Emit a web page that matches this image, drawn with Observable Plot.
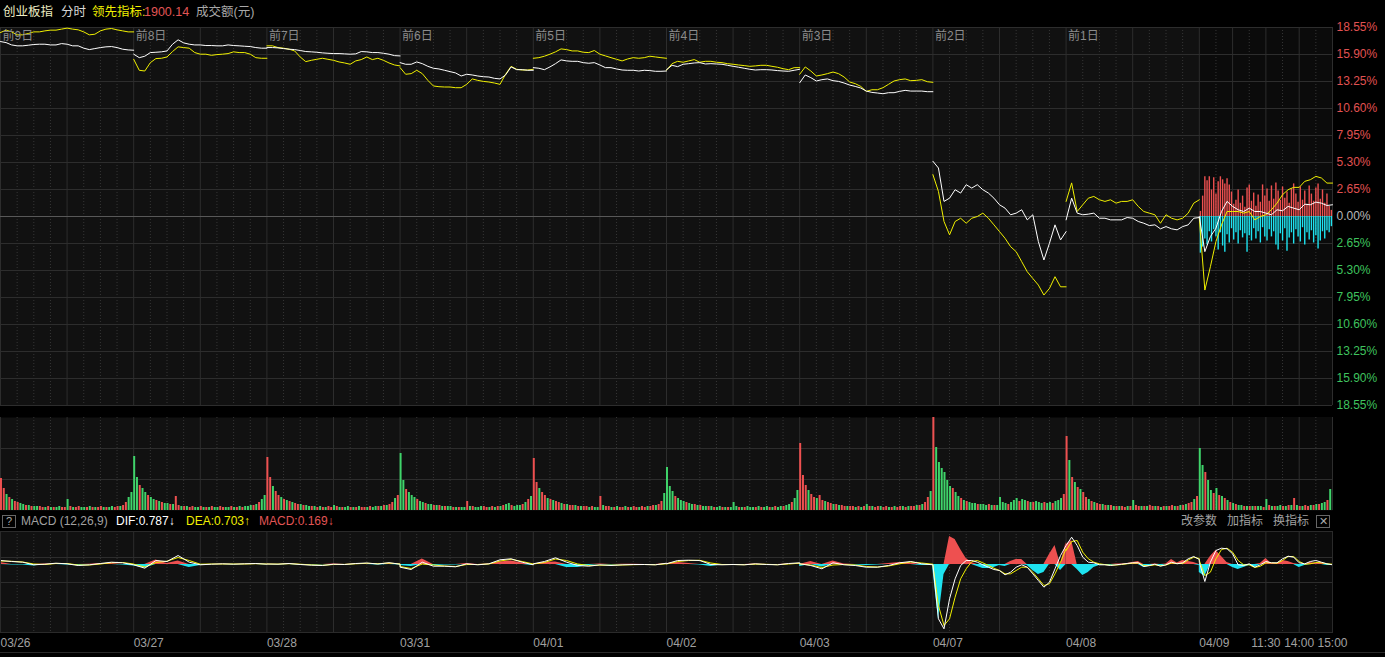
<!DOCTYPE html>
<html><head><meta charset="utf-8">
<script src="https://cdn.jsdelivr.net/npm/d3@7"></script>
<script src="https://cdn.jsdelivr.net/npm/@observablehq/plot@0.6"></script>
<style>
html,body{margin:0;padding:0;background:#000;overflow:hidden;}
#wrap{position:relative;width:1385px;height:657px;background:#000;font-family:"Liberation Sans","Noto Sans CJK SC",sans-serif;}
.layer{position:absolute;left:0;}
.t{position:absolute;font-size:12px;line-height:14px;white-space:nowrap;z-index:5;}
.box{position:absolute;border:1px solid #666;box-sizing:border-box;z-index:5;color:#aaa;font-size:11px;text-align:center;line-height:11px;}
</style></head><body><div id="wrap"></div>
<script>
// ---------- data ----------
const dayLabels = ["前9日","前8日","前7日","前6日","前5日","前4日","前3日","前2日","前1日",""];
const dateLabels = ["03/26","03/27","03/28","03/31","04/01","04/02","04/03","04/07","04/08","04/09"];
const sessionLabels = ["11:30","14:00","15:00"];
const sessionMinutes = [120,180,240];
const pctTicks = [18.55,15.90,13.25,10.60,7.95,5.30,2.65,0,-2.65,-5.30,-7.95,-10.60,-13.25,-15.90,-18.55];

// 创业板指 (white), % change, 10-minute samples
const indexPct = [
 [17.17,17.07,16.84,16.75,16.75,16.81,16.88,16.91,16.91,16.84,16.84,16.97,16.91,16.75,16.75,16.52,16.38,16.48,16.58,16.65,16.68,16.58,16.42,16.35,16.32],
 [15.93,15.59,15.73,16.09,16.12,16.16,16.25,16.91,17.34,17.04,16.91,16.84,16.84,16.78,16.78,16.75,16.75,16.84,16.78,16.75,16.71,16.68,16.58,16.52,16.52],
 [16.58,16.58,16.55,16.48,16.42,16.38,16.29,16.19,16.16,16.12,16.06,16.02,15.99,15.99,15.96,15.93,15.96,16.19,16.16,16.09,16.09,16.02,15.93,15.79,15.76],
 [15.10,14.94,14.94,15.17,15.00,14.74,14.55,14.48,14.35,14.22,14.09,13.79,13.96,13.89,13.79,13.72,13.69,13.56,13.50,13.89,14.68,14.41,14.41,14.35,14.35],
 [14.61,14.55,14.41,14.68,15.00,15.37,15.27,15.23,15.23,15.10,15.04,15.10,14.87,14.61,14.61,14.48,14.38,14.35,14.35,14.28,14.35,14.32,14.25,14.25,14.28],
 [14.41,14.84,14.71,14.94,15.00,15.07,15.10,14.97,15.00,14.97,14.94,14.84,14.74,14.65,14.55,14.45,14.38,14.41,14.41,14.38,14.32,14.28,14.25,14.35,14.45],
 [13.13,13.89,13.63,13.30,13.43,13.50,13.33,13.26,13.10,12.90,12.77,12.61,12.31,12.18,12.12,12.05,12.15,12.15,12.28,12.38,12.31,12.31,12.31,12.25,12.25],
 [5.42,4.76,1.48,1.80,2.63,2.30,3.12,2.79,3.12,2.63,2.30,1.80,1.15,0.82,0.17,0.33,0.66,-0.33,0.17,-2.46,-4.27,-2.63,-0.82,-2.30,-1.48],
 [-0.33,1.80,0.33,0.17,0.23,0.33,-0.17,-0.17,-0.33,-0.33,-0.33,-0.10,-0.17,-0.49,-0.66,-0.89,-0.82,-1.21,-0.99,-1.21,-1.31,-0.99,-0.82,-0.17,-0.10],
 [0,-3.45,-1.97,-1.15,0.49,1.48,0.99,0.66,0.49,0.82,0.49,0.49,0.33,0.17,0.66,0.56,0.99,0.82,0.66,1.21,1.15,1.41,1.31,1.08,1.15]
];
// 领先指标 (yellow), % change, 10-minute samples
const leadPct = [
 [18.06,18.29,18.12,17.83,17.83,17.96,18.12,18.12,18.22,18.29,18.29,18.39,18.49,18.39,18.32,18.12,17.83,17.89,18.22,18.39,18.45,18.32,18.22,18.12,18.12],
 [15.43,14.35,14.28,15.10,15.50,15.53,15.66,16.19,16.65,16.58,16.52,16.09,15.93,15.93,15.82,15.89,15.93,15.99,16.16,16.09,16.09,15.93,15.59,15.53,15.53],
 [16.75,16.75,16.58,16.52,16.42,16.25,15.66,15.20,15.33,15.43,15.53,15.43,15.33,15.17,15.07,14.94,15.27,15.40,15.66,15.40,15.53,15.33,15.07,14.87,14.78],
 [14.61,13.96,14.02,14.35,14.02,13.36,12.81,12.74,12.71,12.71,12.64,12.64,12.97,13.50,13.36,13.26,13.20,13.10,12.97,13.96,14.74,14.45,14.38,14.38,14.45],
 [15.53,15.59,15.73,15.93,16.16,16.45,16.38,16.25,16.25,16.12,16.09,16.29,15.93,15.76,15.59,15.43,15.27,15.46,15.59,15.53,15.59,15.73,15.66,15.59,15.53],
 [14.35,15.00,15.23,15.14,15.27,15.40,15.14,15.23,15.23,15.14,15.10,15.00,14.94,14.87,14.81,14.74,14.78,14.84,14.84,14.74,14.65,14.51,14.41,14.61,14.61],
 [13.96,14.68,14.28,13.79,13.89,14.02,14.18,14.02,13.69,13.20,13.04,12.77,12.28,12.44,12.44,12.64,12.97,13.30,13.43,13.50,13.33,13.36,13.43,13.23,13.17],
 [4.11,2.46,-0.49,-1.80,-0.49,-0.17,-0.66,-0.17,0,0.33,-0.17,-0.82,-1.48,-2.14,-2.96,-3.45,-4.43,-5.42,-6.08,-6.73,-7.71,-7.06,-5.91,-6.90,-6.90],
 [1.48,3.30,0.49,1.15,1.80,1.97,1.64,1.48,1.64,1.31,1.48,1.48,1.64,0.99,0.49,0.33,0.17,-0.66,0.17,-0.17,-0.33,-0.17,0.33,1.31,1.64],
 [-0.17,-7.22,-4.93,-2.46,-0.82,0.49,0.49,0.49,0.33,0.49,-0.33,0,0.17,0.66,1.31,2.14,2.63,2.86,2.86,3.45,3.61,3.94,3.78,3.28,3.28]
];
// today's up / down strength bars
const breadthUp = [0.5,2.0,3.9,3.5,3.9,2.6,3.8,2.2,3.4,3.9,3.6,3.2,3.7,3.1,2.4,1.2,1.6,2.6,1.3,2.0,0.9,2.8,3.1,1.5,2.3,1.0,2.1,1.4,3.1,2.0,2.7,1.5,3.0,1.7,3.3,2.5,1.6,2.9,1.8,2.4,1.3,2.7,3.2,2.2,1.4,2.9,1.6,2.5,1.2,3.0,2.2,1.5,2.8,3.2,1.7,2.6,1.3,2.2,1.0,0.6];
const breadthDown = [-3.6,-3.0,-2.2,-2.8,-1.5,-2.5,-1.3,-2.0,-3.3,-1.6,-2.9,-3.5,-1.8,-2.6,-1.2,-2.3,-1.6,-2.7,-1.4,-2.1,-1.7,-3.5,-1.9,-2.4,-1.2,-2.2,-1.5,-2.6,-1.1,-2.0,-2.4,-1.3,-2.0,-1.5,-2.8,-3.3,-1.7,-2.4,-1.2,-3.4,-2.1,-1.6,-2.7,-1.3,-2.0,-2.5,-1.1,-2.8,-1.6,-2.3,-1.4,-2.6,-1.9,-3.2,-2.4,-1.5,-2.2,-1.4,-1.6,-1.0];

// turnover (成交额), 5-minute bars, relative units
const volume = [
 [32,22,16,13,11,9,8,7,6,5,5,4,4,4,4,3,3,4,3,3,3,4,3,3,11,4,3,3,4,3,3,3,4,3,3,3,4,3,3,3,4,3,4,4,5,8,13,18],
 [54,33,25,22,18,15,13,11,10,9,8,7,7,6,6,14,5,4,4,4,3,4,3,3,4,3,3,3,4,3,3,4,3,3,3,4,3,3,4,3,4,4,5,5,6,8,11,15],
 [53,33,24,19,15,13,11,10,9,8,7,6,6,5,5,4,4,4,3,4,3,3,4,3,5,4,3,3,3,4,3,3,3,4,3,3,3,4,3,4,4,4,5,5,6,8,12,15],
 [57,30,21,18,15,13,11,9,8,7,6,6,5,5,5,4,4,4,4,3,3,3,3,3,9,4,4,3,3,4,4,3,3,4,3,4,4,5,6,7,5,4,5,5,6,8,11,14],
 [52,28,22,18,15,12,11,10,9,8,7,6,6,5,5,5,4,4,4,4,3,4,3,3,14,5,4,4,3,3,4,3,3,4,3,3,4,3,3,4,3,4,4,5,5,6,9,17],
 [43,24,19,14,12,10,9,8,7,6,6,5,5,4,4,4,4,3,3,4,3,3,3,3,8,4,3,3,3,4,3,3,3,4,3,3,4,3,3,4,3,4,4,5,6,8,12,20],
 [67,35,25,20,16,13,12,15,10,9,8,7,6,6,5,5,4,4,4,4,3,4,3,4,6,4,4,3,4,4,3,4,3,3,4,3,4,4,3,4,4,4,5,5,6,8,13,19],
 [93,63,48,42,38,30,24,22,18,14,12,10,9,8,7,7,6,6,6,5,6,5,5,5,13,8,7,6,8,10,12,9,11,10,9,8,8,9,8,7,8,7,8,7,9,10,12,16],
 [74,50,33,28,23,21,18,13,11,9,8,7,6,6,5,5,5,4,4,4,4,3,4,4,10,5,4,4,4,4,5,4,4,4,3,4,4,4,5,4,4,5,5,6,7,8,11,14],
 [62,45,38,30,20,17,22,15,14,12,10,8,7,6,5,5,4,4,4,4,4,4,4,3,11,5,4,4,4,5,4,4,5,5,12,5,4,4,5,4,5,5,6,6,7,8,10,21]
];
const volColor = [
 "rrgrgrrg grgrggrr grgrggrr grgrrggr grgrrgrg grrgrrgg",
 "ggrggrgg rgrggrgr rgrgrrgg rgrgrggr rggrgrgr gggrgrgg",
 "rrgrrgrg rgrrgrgg rgrgrgrr grgrggrg rgrrgrgg rgrgrrgr",
 "ggrgggrg grggrgrg rggrgrgg rgrgggrr grgrgrgg rgggrgrg",
 "rrgrrgrg rrgrgrrg rgrrgrgg rgrrgrgr rgrgrrgr rgrrgrrg",
 "gggrgggr ggrgrggr grggrgrg ggrgrggg rgrggrgr ggrggrgg",
 "rrrgrrgr rgrrgrgr rgrrgrgr grgrrgrr grgrrgrg rrgrgrrg",
 "rggggggr ggrgrggg rgggrgrg gggrgggr ggrgrggg rggrgggr",
 "rgrgrgrr grgrrgrg rgrgrrgr grrgrgrr grgrgrrg rgrgrrgr",
 "ggrggrgr grgrgrgg rgrgrggr grgrggrg rgrgrgrr grgrggrg"
];

// MACD (12,26,9)
const dif = [
 [4,3,2.3,-0.3,0.3,1.3,0.7,-1,-0.3,1,2.3,1.7,-0.3],
 [-0.3,-3.7,4,3,9,2.3,-0.3,0.3,0.7,0.3,0.7,1,0.3],
 [0.5,0.3,1,0,-0.7,-1,0.3,0,1,1.5,0.5,1.8,0.3],
 [-2.7,-5,2.3,-1.7,-1.7,-2.3,0.7,-0.3,0.7,4.7,5.7,2.3,-0.3],
 [0.7,3,6.7,2.3,-1,-1.7,-0.3,-1,-0.3,0,0,-0.3,1.3],
 [0.7,4,4.3,4,0,-0.3,0,-0.3,0.7,0,-0.3,1,1.7],
 [0.7,-1,-4.3,1.7,-0.3,-1,-2.7,-2.7,-1,1.7,3,0.7,-0.3],
 [-0.3,-54.3,-64.3,-34.3,-14.3,-1,4,4,2.3,-0.3,-2.7,-5,-6,-10.3,-7.7,-2.7,-0.3,-2.7,-9.3,-16,-22.7,-17.7,-4.3,9,19],
 [19,27.3,19,7.3,2.3,1.7,-0.3,-0.3,-1,-0.3,0.3,1,1.7,1.7,-2,-1,0.3,-1.7,-0.3,2.3,0.7,1.7,5.7,8,5],
 [2.3,-17,2.3,14,16.3,15.7,10.7,-0.3,-1,0.7,-2.7,-0.3,3,1.7,1.7,5.7,8.3,7.3,1.7,0.7,3,4,2.3,0.7,-0.3]
];
const dea = [
 [3.5,3.2,2.5,0.5,0,1,1,-0.5,-0.5,0.5,1.8,2,0.5],
 [0.3,-2.5,2,3.3,7,4,0.3,0.5,0.5,0.5,0.5,0.8,0.5],
 [0.5,0.4,0.8,0.3,-0.4,-0.8,0,0.1,0.7,1.2,0.8,1.4,0.6],
 [-2,-4,0.5,-0.5,-1.5,-2,0,0,0.5,3.5,5.2,3,0.5],
 [0.5,2,5.5,4,0.5,-1,-0.7,-0.7,-0.5,-0.2,0,-0.2,0.7],
 [0.5,3,4,4.2,1.5,0,0,-0.2,0.3,0.2,-0.2,0.5,1.3],
 [0.5,-0.5,-3,-0.5,0,-0.5,-2,-2.5,-1.5,0.7,2.5,1.5,0.3],
 [-0.3,-41,-61,-54.3,-32.7,-14.3,-4.3,3,4,1.7,-1,-3.7,-6,-9.3,-9.3,-6,-2.7,-2.7,-7.7,-14.3,-21,-19.3,-9.3,2.3,15.7],
 [14,23,24,12.3,5.7,2.3,0.7,-0.1,-0.7,-0.5,0,0.7,1.3,1.5,-1,-1.2,-0.3,-1.2,-0.5,1.5,1,1,4.5,7.3,6],
 [4,-11,-7.7,5.7,15,16.3,12.3,4,-0.3,-0.3,-3,-1.7,1.7,1.7,1.3,4,8,8,3,0.3,0.7,2,1.7,0.7,0.3]
];
const macdHist = [
 [2,-0.5,-0.5,-1.5,0.5,0.5,-0.5,-1,0.3,1,1,-0.5,-1.5],
 [-1.5,-3.5,4.5,1,3.5,-3,-1,0,0.3,-0.3,0.3,0.3,-0.3],
 [0.3,-0.3,0.5,-0.5,-0.5,-0.3,0.5,-0.2,0.5,0.6,-0.5,1,-0.5],
 [-1,-2,5.5,-1,-0.5,-0.5,1,-0.3,0.5,2.5,3.5,1.5,-1],
 [0.5,2,2.5,-3,-3,-1,0.5,-0.5,0.3,0.3,0,-0.3,1],
 [1,2,1,-0.5,-2,-0.5,0,0,0.5,-0.3,0,0.5,1],
 [-2,3,-2.5,3.5,0.5,-0.5,-1,-0.5,1,2,1.5,-1,-1],
 [-5,-55,-10,28,25,15,6,2,-2,-4,-4,-3,-1,-2,3,5,5,-1,-6,-10,-8,10,19,-6,22],
 [20,24,-5,-11,-8,-3,-1,-1,-1,0.5,0.5,1,2,3,-3,-2,0.5,-2,0.5,5,1.5,4,3,2,-1],
 [-8,-12,8,14,8,2,-3,-5,-3,-1,-3,1,6,1,1,4,3,1,-3,-1,2,1,2,-1,-1]
];
const volGrid = [31, 62];
const macdGrid = [7, -18, -43];

// ---------- helpers ----------
const DAY = 240, NDAYS = 10, T_END = DAY * NDAYS;
const FONT = '"Liberation Sans","Noto Sans CJK SC",sans-serif';
const C = {bg:"#111111", today:"#0b0b0b", grid:"#2d2d2d", dot:"#363636", zero:"#585858",
  white:"#ffffff", yellow:"#f0f000", red:"#ee5050", green:"#3fd46a", cyan:"#1ee3f0",
  axisRed:"#e05252", axisGreen:"#3fc35e", axisZero:"#b8b8b8", gray:"#8c8c8c"};

function flatten(byDay){
  const out=[];
  byDay.forEach((a,d)=>{const n=a.length; a.forEach((v,i)=>out.push({day:d, t:d*DAY+i*DAY/(n-1), v}));});
  return out;
}
const whiteData = flatten(indexPct), yellowData = flatten(leadPct);
const difData = flatten(dif), deaData = flatten(dea), histData = flatten(macdHist);
const todayStart = (NDAYS-1)*DAY;
const upBars = breadthUp.map((v,i)=>({t: todayStart + 2 + i*4, v}));
const downBars = breadthDown.map((v,i)=>({t: todayStart + 2 + i*4, v}));
const volData = [];
volume.forEach((a,d)=>{const cs=volColor[d].replace(/\s/g,""); a.forEach((v,i)=>volData.push({t0:d*DAY+i*5, t1:d*DAY+i*5+5, v, c:cs[i]||"g"}));});

const allHalfHours = d3.range(0, T_END+1, 30);
const solidX = allHalfHours.filter(t => t >= todayStart ? (t % 60 === 0) : (t % 120 === 0));
const dottedX = allHalfHours.filter(t => !solidX.includes(t));

function gridMarks(yDomain){
  return [
    Plot.frame({fill:C.bg, stroke:null}),
    Plot.rect([0], {x1:todayStart, x2:T_END, y1:yDomain[0], y2:yDomain[1], fill:C.today}),
    Plot.ruleX(dottedX, {stroke:C.dot, strokeDasharray:"1,2"}),
    Plot.ruleX(solidX, {stroke:C.grid})
  ];
}
const common = {width:1385, marginLeft:0, marginRight:53,
  x:{domain:[0,T_END], axis:null},
  style:{background:"transparent", fontFamily:FONT, fontSize:"12px", overflow:"visible"}};

// ---------- main panel ----------
const pctFmt = v => Math.abs(v).toFixed(2) + "%";
const mainY = [-18.55, 18.55];
const main = Plot.plot({...common, height:398, marginTop:10, marginBottom:10,
  y:{domain:mainY, axis:null},
  marks:[
    ...gridMarks(mainY),
    Plot.ruleY(pctTicks.filter(v=>v!==0), {stroke:C.grid}),
    Plot.ruleY([0], {stroke:C.zero}),
    Plot.ruleX(upBars, {x:"t", y1:0, y2:"v", stroke:C.red, strokeWidth:1.4}),
    Plot.ruleX(downBars, {x:"t", y1:0, y2:"v", stroke:C.cyan, strokeWidth:1.4}),
    Plot.line(yellowData, {x:"t", y:"v", z:"day", stroke:C.yellow, strokeWidth:1}),
    Plot.line(whiteData, {x:"t", y:"v", z:"day", stroke:C.white, strokeWidth:1}),
    Plot.text(dayLabels, {x:(d,i)=>i*DAY, frameAnchor:"top", lineAnchor:"middle", dy:9, dx:2, textAnchor:"start", text:d=>d, fill:C.gray, fontSize:12}),
    Plot.text(pctTicks, {x:T_END, y:d=>d, text:pctFmt, textAnchor:"start", dx:4, fontSize:12,
      fill:d=> d>0 ? C.axisRed : d<0 ? C.axisGreen : C.axisZero})
  ]});

// ---------- volume panel ----------
const volY = [0, 93];
const vol = Plot.plot({...common, height:93, marginTop:0, marginBottom:0,
  y:{domain:volY, axis:null},
  marks:[
    ...gridMarks(volY),
    Plot.ruleY(volGrid, {stroke:C.grid}),
    Plot.rect(volData, {x1:"t0", x2:"t1", y1:0, y2:"v", insetRight:0.8, fill:d=>d.c==="r"?C.red:C.green}),
  ]});

// ---------- MACD panel ----------
const macdY = [-68, 33];
const macd = Plot.plot({...common, height:121, marginTop:0, marginBottom:20,
  y:{domain:macdY, axis:null},
  marks:[
    ...gridMarks(macdY),
    Plot.ruleY(macdGrid, {stroke:C.grid}),
    Plot.areaY(histData, {x:"t", y1:0, y2:d=>Math.max(0,d.v), z:"day", fill:C.red, curve:"linear"}),
    Plot.areaY(histData, {x:"t", y1:0, y2:d=>Math.min(0,d.v), z:"day", fill:C.cyan, curve:"linear"}),
    Plot.line(deaData, {x:"t", y:"v", stroke:C.yellow, strokeWidth:1}),
    Plot.line(difData, {x:"t", y:"v", stroke:C.white, strokeWidth:1}),
    Plot.frame({stroke:"#2a2a2a"}),
    Plot.text(dateLabels, {x:(d,i)=>i*DAY, frameAnchor:"bottom", lineAnchor:"middle", dy:11, textAnchor:"start", text:d=>d, fill:"#a0a0a0", fontSize:12}),
    Plot.text(sessionLabels, {x:(d,i)=>todayStart+sessionMinutes[i], frameAnchor:"bottom", lineAnchor:"middle", dy:11, textAnchor:"middle", text:d=>d, fill:"#a0a0a0", fontSize:12})
  ]});

// ---------- assemble ----------
const wrap = document.getElementById("wrap");
function place(el, top){ const d=document.createElement("div"); d.className="layer"; d.style.top=top+"px"; d.appendChild(el); wrap.appendChild(d); }
place(main, 17);
place(vol, 417);
place(macd, 531);
const bottomLine = document.createElement("div");
Object.assign(bottomLine.style,{position:"absolute",left:"0px",top:"652px",width:"1385px",height:"1px",background:"#2a2a2a"});
wrap.appendChild(bottomLine);

function txt(s, left, top, color, size){
  const d=document.createElement("div"); d.className="t"; d.textContent=s;
  d.style.left=left+"px"; d.style.top=top+"px"; d.style.color=color; if(size) d.style.fontSize=size+"px";
  wrap.appendChild(d);
}
// header
txt("创业板指", 3, 5, "#ededc4", 12.5);
txt("分时", 61, 5, "#d8d8d8", 12.5);
txt("领先指标:", 92, 5, "#f0f000", 12.5);
txt("1900.14", 144, 5, "#e05555", 12.5);
txt("成交额(元)", 196, 5, "#a8a8a8", 12.5);
// MACD header
const q=document.createElement("div"); q.className="box"; q.textContent="?";
Object.assign(q.style,{left:"2px",top:"515px",width:"14px",height:"13px"}); wrap.appendChild(q);
txt("MACD (12,26,9)", 21, 514, "#a0a0a0");
txt("DIF:0.787↓", 116, 514, "#ffffff");
txt("DEA:0.703↑", 186, 514, "#f0f000");
txt("MACD:0.169↓", 259, 514, "#e05555");
txt("改参数", 1181, 514, "#a0a0a0");
txt("加指标", 1227, 514, "#a0a0a0");
txt("换指标", 1273, 514, "#a0a0a0");
const xb=document.createElement("div"); xb.className="box"; xb.textContent="✕";
Object.assign(xb.style,{left:"1316px",top:"515px",width:"14px",height:"13px"}); wrap.appendChild(xb);
</script></body></html>
